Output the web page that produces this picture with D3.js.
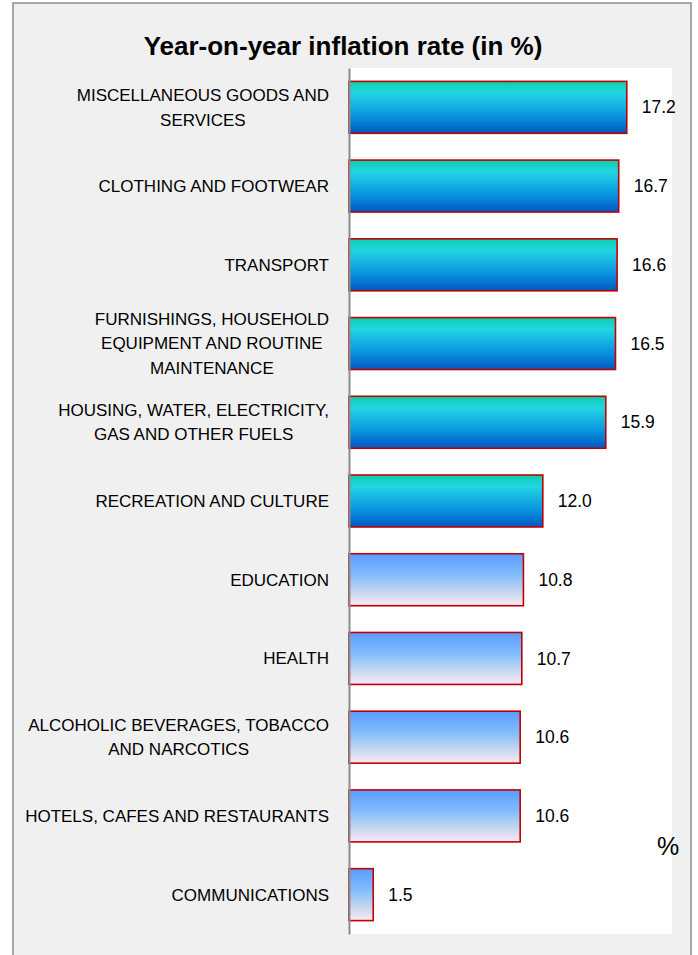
<!DOCTYPE html>
<html>
<head>
<meta charset="utf-8">
<script src="https://cdn.jsdelivr.net/npm/d3@7"></script>
<style>
  body { margin: 0; background: #ffffff; }
  svg { display: block; }
</style>
</head>
<body>
<svg id="chart"></svg>
<script>
// Categories top to bottom, values in %
const categories = [
  'MISCELLANEOUS GOODS AND\nSERVICES',
  'CLOTHING AND FOOTWEAR',
  'TRANSPORT',
  'FURNISHINGS, HOUSEHOLD\nEQUIPMENT AND ROUTINE\nMAINTENANCE',
  'HOUSING, WATER, ELECTRICITY,\nGAS AND OTHER FUELS',
  'RECREATION AND CULTURE',
  'EDUCATION',
  'HEALTH',
  'ALCOHOLIC BEVERAGES, TOBACCO\nAND NARCOTICS',
  'HOTELS, CAFES AND RESTAURANTS',
  'COMMUNICATIONS'
];
const values = [17.2, 16.7, 16.6, 16.5, 15.9, 12.0, 10.8, 10.7, 10.6, 10.6, 1.5];
// which fill each bar uses ('high' = teal/blue, 'low' = light blue)
const fillGroup = ['high', 'high', 'high', 'high', 'high', 'high', 'low', 'low', 'low', 'low', 'low'];
const xDomain = [0, 20];

const width = 698, height = 955;
const svg = d3.select('#chart').attr('width', width).attr('height', height);
const font = "'Liberation Sans', Arial, sans-serif";

// outer frame
svg.append('rect')
  .attr('x', 13).attr('y', 3)
  .attr('width', 678).attr('height', 980)
  .attr('fill', '#f0f0f0')
  .attr('stroke', '#8c8c8c')
  .attr('stroke-width', 1.5);

// plot area
const plot = { left: 349, right: 672, top: 68, bottom: 934 };
svg.append('rect')
  .attr('x', plot.left).attr('y', plot.top)
  .attr('width', plot.right - plot.left)
  .attr('height', plot.bottom - plot.top)
  .attr('fill', '#ffffff');

const defs = svg.append('defs');
const gHigh = defs.append('linearGradient').attr('id', 'grad-high')
  .attr('x1', 0).attr('y1', 0).attr('x2', 0).attr('y2', 1);
gHigh.append('stop').attr('offset', '0%').attr('stop-color', '#0ccfaa');
gHigh.append('stop').attr('offset', '22%').attr('stop-color', '#22d6e2');
gHigh.append('stop').attr('offset', '65%').attr('stop-color', '#0b96e0');
gHigh.append('stop').attr('offset', '100%').attr('stop-color', '#0058c4');
const gLow = defs.append('linearGradient').attr('id', 'grad-low')
  .attr('x1', 0).attr('y1', 0).attr('x2', 0).attr('y2', 1);
gLow.append('stop').attr('offset', '0%').attr('stop-color', '#5a9bff');
gLow.append('stop').attr('offset', '40%').attr('stop-color', '#80bcfc');
gLow.append('stop').attr('offset', '75%').attr('stop-color', '#c8d8ee');
gLow.append('stop').attr('offset', '100%').attr('stop-color', '#fbe9f6');

const x = d3.scaleLinear().domain(xDomain).range([plot.left, plot.right]);
const y = d3.scaleBand()
  .domain(categories)
  .range([plot.top, plot.bottom])
  .paddingInner(0.34)
  .paddingOuter(0.17);

const data = categories.map((c, i) => ({ cat: c, value: values[i], group: fillGroup[i] }));

// bars
svg.append('g')
  .selectAll('rect')
  .data(data)
  .enter()
  .append('rect')
  .attr('x', x(0))
  .attr('y', d => y(d.cat))
  .attr('width', d => x(d.value) - x(0))
  .attr('height', y.bandwidth())
  .attr('fill', d => d.group === 'high' ? 'url(#grad-high)' : 'url(#grad-low)')
  .attr('stroke', '#c00000')
  .attr('stroke-width', 1.6);

// value labels
svg.append('g')
  .selectAll('text')
  .data(data)
  .enter()
  .append('text')
  .attr('x', d => x(d.value) + 15)
  .attr('y', d => y(d.cat) + y.bandwidth() / 2)
  .attr('dy', '0.35em')
  .attr('font-family', font)
  .attr('font-size', 17.5)
  .attr('fill', '#000')
  .text(d => d.value.toFixed(1));

// axis line (category axis, no ticks)
const yAxis = d3.axisLeft(y).tickSize(0).tickFormat('');
const axisG = svg.append('g').attr('transform', `translate(${plot.left},0)`).call(yAxis);
axisG.select('.domain').attr('stroke', '#8c8c8c').attr('stroke-width', 2);

// category labels, wrapped lines centered within right-aligned block
const lineH = 24.5;
const labelG = svg.append('g');
data.forEach(d => {
  const lines = d.cat.split('\n');
  const t = labelG.append('text')
    .attr('font-family', font)
    .attr('font-size', 17)
    .attr('fill', '#000');
  const cy = y(d.cat) + y.bandwidth() / 2;
  const y0 = cy - (lines.length - 1) * lineH / 2;
  lines.forEach((ln, k) => {
    t.append('tspan').attr('y', y0 + k * lineH).attr('dy', '0.35em').text(ln);
  });
  // measure widest line, then center each line within block ending at 329
  const spans = t.selectAll('tspan').nodes();
  const widths = spans.map(s => s.getComputedTextLength());
  const maxW = d3.max(widths);
  const blockCenter = 329 - maxW / 2;
  spans.forEach(s => d3.select(s).attr('x', blockCenter).attr('text-anchor', 'middle'));
});

// title
svg.append('text')
  .attr('x', 343)
  .attr('y', 46)
  .attr('dy', '0.35em')
  .attr('text-anchor', 'middle')
  .attr('font-family', font)
  .attr('font-weight', 'bold')
  .attr('font-size', 26)
  .attr('fill', '#000')
  .text('Year-on-year inflation rate (in %)');

// unit label
svg.append('text')
  .attr('x', 668)
  .attr('y', 846)
  .attr('dy', '0.35em')
  .attr('text-anchor', 'middle')
  .attr('font-family', font)
  .attr('font-size', 25)
  .attr('fill', '#000')
  .text('%');
</script>
</body>
</html>
